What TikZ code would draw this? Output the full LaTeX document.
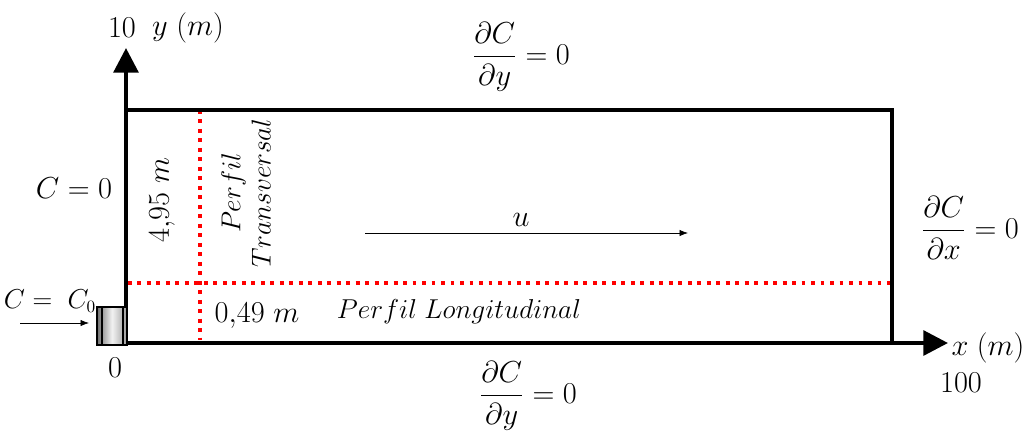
\documentclass[tikz,border=0pt]{standalone}
\usepackage{amsmath,amssymb}
\usepackage{xcolor}
\usepackage{tikz}
\usetikzlibrary{arrows.meta,calc}
\definecolor{RojoPerfil}{RGB}{255,0,0}
\definecolor{GrisFuente}{RGB}{110,110,110}

\begin{document}
\begin{tikzpicture}[x=0.02cm,y=-0.02cm,>=Latex,font=\fontsize{16}{19}\selectfont]
  \useasboundingbox (0,0) rectangle (1023,430);
  \coordinate (O) at (126,343);
  \coordinate (Ytop) at (126,48);
  \coordinate (Xend) at (948,343);
  \coordinate (TL) at (126,110);
  \coordinate (BR) at (892,343);
  % perfiles
  \draw[RojoPerfil,line width=2.2pt,dash pattern=on 2.2pt off 3.2pt] (200,110) -- (200,340);
  \draw[RojoPerfil,line width=2.2pt,dash pattern=on 2.2pt off 3.2pt] (128,283) -- (892,283);
  % dominio
  \draw[line width=2.3pt] (TL) -| (BR);
  \draw[line width=2.3pt,-{Triangle[width=14pt,length=14pt]}] (O) -- (Ytop);
  \draw[line width=2.3pt,-{Triangle[width=14pt,length=14pt]}] (O) -- (Xend);
  % fuente
  \shade[left color=GrisFuente,right color=GrisFuente!70,middle color=white!90!gray] (97,307) rectangle (127,345);
  \draw[line width=1.3pt] (97,307) rectangle (127,345);
  \draw[line width=0.8pt] (102,307) -- (102,345);
  \draw[line width=0.8pt] (123,307) -- (123,345);
  \coordinate (Fin) at (20,323);
  \coordinate (Fout) at (89,323);
  \draw[->,thin] (Fin) -- (Fout);
  \node[scale=0.9] (cfuente) at (50,301) {$C =\ C_0$};
  \node (cero) at (115,368) {$0$};
  % velocidad
  \coordinate (Uin) at (365,233);
  \coordinate (Uout) at (688,233);
  \draw[->,thin] (Uin) -- (Uout);
  \node (u) at (521,220) {$u$};
  % ejes
  \node (diez) at (122,28) {$10$};
  \node (ylab) at (188,28) {$y\ (m)$};
  \node[inner sep=0pt] (xlab) at (988,348) {$x\ (m)$};
  \node (cien) at (961,383) {$100$};
  % condiciones de contorno
  \node (bctop) at (521,57) {$\dfrac{\partial C}{\partial y} = 0$};
  \node (bcright) at (970,228) {$\dfrac{\partial C}{\partial x} = 0$};
  \node[inner sep=0pt] (bcbottom) at (528,396) {$\dfrac{\partial C}{\partial y} = 0$};
  \node (bcleft) at (74,188) {$C = 0$};
  % etiquetas de perfiles
  \node[rotate=90,align=center,scale=0.9] (ptrans) at (246,193) {$Perfil$\\$Transversal$};
  \node[rotate=90] (alto) at (162,200) {$4{,}95\ m$};
  \node (ancho) at (257,316) {$0{,}49\ m$};
  \node[scale=0.9] (plong) at (459,312) {$Perfil\ Longitudinal$};
\end{tikzpicture}
\end{document}
